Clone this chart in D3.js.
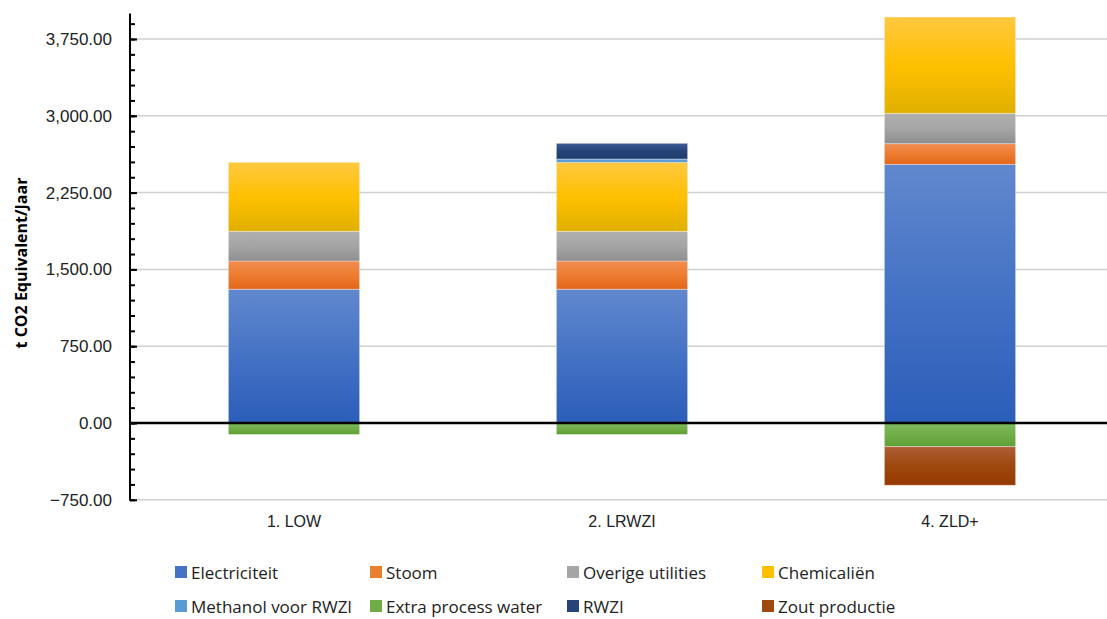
<!DOCTYPE html>
<html>
<head>
<meta charset="utf-8">
<script src="https://cdn.jsdelivr.net/npm/d3@7"></script>
<style>
  body { margin: 0; background: #fff; }
  svg { display: block; font-family: "Open Sans", Lato, sans-serif; }
</style>
</head>
<body>
<div id="chart"></div>
<script>
// Data ----------------------------------------------------------------------------------------------------------------
const categories = ["1. LOW", "2. LRWZI", "4. ZLD+"];
const seriesNames = ["Electriciteit", "Stoom", "Overige utilities", "Chemicaliën",
  "Methanol voor RWZI", "Extra process water", "RWZI", "Zout productie"];
const electriciteit = [1306, 1306, 2526];
const stoom = [276, 276, 202];
const overigeUtilities = [290, 290, 296];
const chemicalien = [674, 674, 941];
const methanolRwzi = [0, 32, 0];
const extraProcessWater = [-112, -112, -231];
const rwzi = [0, 153, 0];
const zoutProductie = [0, 0, -377];
const yTicks = [-750, 0, 750, 1500, 2250, 3000, 3750];

const seriesColors = ["#4472c4", "#ed7d31", "#a5a5a5", "#ffc000", "#5b9bd5", "#70ad47", "#264478", "#9e480e"];
const topColors = ["#6188ce", "#f18c52", "#b0b0b0", "#ffc840", "#69a6dc", "#7fbb5f", "#3e5d96", "#ae5d36"];
const bottomColors = ["#2b5eb9", "#e2661b", "#8e8e8e", "#dfb000", "#4a8ccb", "#5ea135", "#1e3b70", "#953900"];
const seriesValues = [electriciteit, stoom, overigeUtilities, chemicalien, methanolRwzi, extraProcessWater, rwzi, zoutProductie];

// Canvas --------------------------------------------------------------------------------------------------------------
const canvasWidth = 1107;
const canvasHeight = 619;
const leftEdge = 130;
const rightEdge = 1114;

const svg = d3.select("#chart")
  .append("svg")
  .attr("width", canvasWidth)
  .attr("height", canvasHeight);

const rows = categories.map(function(c, i) {
  const row = { category: c };
  seriesNames.forEach((s, j) => row[s] = seriesValues[j][i]);
  return row;
});

const stacked = d3.stack()
  .keys(seriesNames)
  .offset(d3.stackOffsetDiverging)(rows);

const xScale = d3.scaleBand()
  .domain(categories)
  .range([leftEdge, rightEdge])
  .padding(0);
const barWidth = xScale.bandwidth() * 0.4;

const yScale = d3.scaleLinear()
  .domain([-750, 4000])
  .range([499.8, 13.4]);

// Gradients -----------------------------------------------------------------------------------------------------------
const defs = svg.append("defs");
seriesColors.forEach(function(col, i) {
  const g = defs.append("linearGradient")
    .attr("id", "grad" + i)
    .attr("x1", 0).attr("y1", 0).attr("x2", 0).attr("y2", 1);
  g.append("stop").attr("offset", "0%").attr("stop-color", topColors[i]);
  g.append("stop").attr("offset", "50%").attr("stop-color", col);
  g.append("stop").attr("offset", "100%").attr("stop-color", bottomColors[i]);
});

// Gridlines -----------------------------------------------------------------------------------------------------------
svg.append("g")
  .selectAll("line")
  .data(yTicks.filter(d => d !== 0))
  .enter()
  .append("line")
  .attr("x1", leftEdge)
  .attr("x2", canvasWidth)
  .attr("y1", d => yScale(d))
  .attr("y2", d => yScale(d))
  .style("stroke", "#d0d0d0")
  .style("stroke-width", 1.5);

// Bars ----------------------------------------------------------------------------------------------------------------
svg.append("g")
  .selectAll("g")
  .data(stacked)
  .enter()
  .append("g")
  .attr("fill", (d, i) => "url(#grad" + i + ")")
  .selectAll("rect")
  .data(d => d)
  .enter()
  .filter(d => d[1] - d[0] !== 0)
  .append("rect")
  .attr("x", d => xScale(d.data.category) + (xScale.bandwidth() - barWidth) / 2)
  .attr("y", d => yScale(Math.max(d[0], d[1])))
  .attr("width", barWidth)
  .attr("height", d => Math.abs(yScale(d[0]) - yScale(d[1])))
  .style("stroke", "rgba(255,255,255,0.35)")
  .style("stroke-width", 1);

// Zero line -----------------------------------------------------------------------------------------------------------
svg.append("line")
  .attr("x1", leftEdge)
  .attr("x2", canvasWidth)
  .attr("y1", yScale(0))
  .attr("y2", yScale(0))
  .style("stroke", "#000")
  .style("stroke-width", 2.5);

// Axes ----------------------------------------------------------------------------------------------------------------
const minorTicks = d3.range(-750, 4001, 150);
const yAxisMinor = svg.append("g")
  .attr("transform", "translate(" + leftEdge + ",0)")
  .call(d3.axisRight(yScale).tickValues(minorTicks).tickSize(5).tickFormat(""));
yAxisMinor.select(".domain").remove();
yAxisMinor.selectAll("line").style("stroke", "#000").style("stroke-width", 2);

const yAxis = svg.append("g")
  .attr("transform", "translate(" + leftEdge + ",0)")
  .call(d3.axisRight(yScale).tickValues(yTicks).tickSize(7).tickFormat(d3.format(",.2f")));
yAxis.select(".domain").remove();
yAxis.selectAll("line").style("stroke", "#000").style("stroke-width", 2);
yAxis.selectAll("text")
  .attr("x", -18)
  .style("text-anchor", "end")
  .style("font-size", "17px")
  .style("fill", "#222");

svg.append("line")
  .attr("x1", leftEdge)
  .attr("x2", leftEdge)
  .attr("y1", yScale(4000))
  .attr("y2", yScale(-750) + 1)
  .style("stroke", "#000")
  .style("stroke-width", 2);

svg.append("text")
  .text("t CO2 Equivalent/Jaar")
  .attr("transform", "translate(27," + 263 + ") rotate(-90)")
  .style("text-anchor", "middle")
  .style("font-weight", "bold")
  .style("font-size", "16px")
  .style("fill", "#000");

const xAxis = svg.append("g")
  .attr("transform", "translate(0," + 513 + ")")
  .call(d3.axisBottom(xScale).tickSize(0));
xAxis.select(".domain").remove();
xAxis.selectAll("text")
  .style("font-size", "16px")
  .style("fill", "#222");

// Legend --------------------------------------------------------------------------------------------------------------
const legendCols = [175, 370, 567, 762];
const legendRows = [572, 606];
const legend = svg.append("g")
  .selectAll("g")
  .data(seriesNames)
  .enter()
  .append("g")
  .attr("transform", (d, i) => "translate(" + legendCols[i % 4] + "," + legendRows[Math.floor(i / 4)] + ")");
legend.append("rect")
  .attr("x", 0)
  .attr("y", -6)
  .attr("width", 12)
  .attr("height", 12)
  .attr("fill", (d, i) => seriesColors[i]);
legend.append("text")
  .text(d => d)
  .attr("x", 16)
  .attr("y", 0)
  .attr("dominant-baseline", "central")
  .style("font-size", "17px")
  .style("fill", "#222");
</script>
</body>
</html>
